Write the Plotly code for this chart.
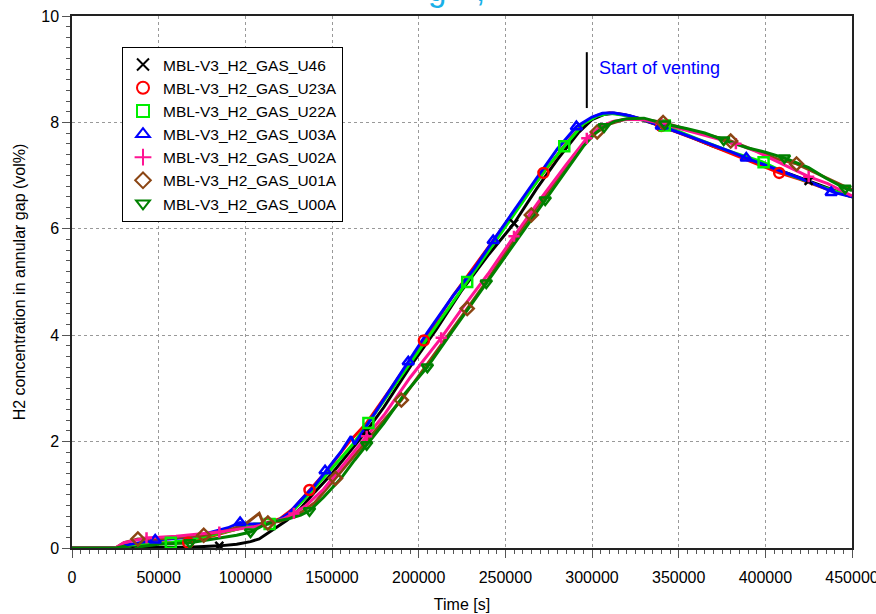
import plotly.graph_objects as go

# ---------------- data (time in kilo-seconds, H2 in vol%) ----------------
u46_t = [0, 30, 50, 70, 85, 95, 103, 108, 113, 118, 124, 132, 140, 150, 160, 170, 180, 197, 210, 225, 240, 255, 268, 280, 292, 300, 307, 313, 322, 332, 340, 355, 370, 385, 400, 412, 425, 438, 450]
u46_c = [0, 0, 0.01, 0.02, 0.04, 0.07, 0.12, 0.17, 0.28, 0.4, 0.52, 0.75, 1.05, 1.4, 1.8, 2.2, 2.65, 3.5, 4.1, 4.85, 5.5, 6.1, 6.75, 7.3, 7.8, 8.05, 8.15, 8.17, 8.12, 8.02, 7.93, 7.75, 7.55, 7.38, 7.2, 7.05, 6.9, 6.75, 6.6]
u46_mt = [85, 170, 255, 340, 425]
u46_mc = [0.04, 2.2, 6.1, 7.93, 6.9]

u23a_t = [0, 25, 30, 45, 67, 90, 100, 110, 120, 128, 137, 147, 160, 170, 185, 203, 220, 240, 258, 272, 285, 295, 303, 310, 318, 330, 340, 360, 380, 395, 408, 420, 435, 450]
u23a_c = [0, 0, 0.05, 0.1, 0.1, 0.3, 0.4, 0.45, 0.55, 0.75, 1.09, 1.45, 2.0, 2.35, 3.05, 3.9, 4.75, 5.65, 6.45, 7.05, 7.6, 7.98, 8.13, 8.18, 8.15, 8.05, 7.93, 7.68, 7.42, 7.22, 7.05, 6.93, 6.75, 6.6]
u23a_mt = [67, 137, 203, 272, 340, 408]
u23a_mc = [0.1, 1.09, 3.9, 7.05, 7.93, 7.05]

u22a_t = [0, 25, 30, 45, 57, 75, 95, 105, 114, 125, 135, 150, 162, 171, 185, 200, 215, 228, 245, 262, 274, 284, 295, 303, 310, 320, 330, 342, 360, 380, 399, 415, 430, 450]
u22a_c = [0, 0, 0.05, 0.08, 0.1, 0.2, 0.35, 0.45, 0.45, 0.62, 0.95, 1.5, 1.95, 2.35, 3.0, 3.7, 4.4, 5.0, 5.8, 6.6, 7.15, 7.55, 7.97, 8.12, 8.17, 8.13, 8.05, 7.94, 7.7, 7.45, 7.25, 7.0, 6.82, 6.6]
u22a_mt = [57, 114, 171, 228, 284, 342, 399]
u22a_mc = [0.1, 0.45, 2.35, 5.0, 7.55, 7.94, 7.25]

u03a_t = [0, 25, 30, 40, 48, 60, 75, 90, 97, 102, 110, 118, 125, 132, 140, 147, 155, 161, 163, 170, 180, 194, 205, 220, 232, 243, 255, 268, 280, 291, 300, 306, 312, 320, 330, 340, 350, 360, 370, 380, 389, 400, 410, 420, 430, 440, 450]
u03a_c = [0, 0, 0.05, 0.1, 0.15, 0.18, 0.25, 0.38, 0.48, 0.45, 0.45, 0.5, 0.65, 0.9, 1.17, 1.47, 1.8, 2.1, 1.95, 2.3, 2.8, 3.5, 4.05, 4.75, 5.25, 5.78, 6.35, 6.95, 7.5, 7.92, 8.1, 8.17, 8.18, 8.14, 8.05, 7.93, 7.82, 7.7, 7.58, 7.45, 7.33, 7.2, 7.08, 6.95, 6.82, 6.68, 6.6]
u03a_mt = [48, 97, 146, 194, 243, 291, 340, 389, 438]
u03a_mc = [0.15, 0.48, 1.45, 3.5, 5.78, 7.92, 7.93, 7.33, 6.68]

u02a_t = [0, 25, 30, 43, 60, 75, 85, 95, 105, 115, 122, 128, 135, 145, 155, 163, 170, 180, 195, 213, 225, 240, 255, 270, 285, 297, 305, 312, 320, 330, 340, 355, 370, 383, 395, 410, 425, 436, 450]
u02a_c = [0, 0, 0.1, 0.19, 0.22, 0.27, 0.3, 0.35, 0.4, 0.47, 0.55, 0.65, 0.8, 1.1, 1.5, 1.8, 2.1, 2.5, 3.2, 3.95, 4.5, 5.15, 5.86, 6.55, 7.2, 7.7, 7.92, 8.02, 8.06, 8.05, 7.98, 7.85, 7.72, 7.6, 7.45, 7.22, 6.98, 6.85, 6.62]
u02a_mt = [43, 85, 128, 170, 213, 255, 297, 340, 383, 425]
u02a_mc = [0.19, 0.3, 0.65, 2.1, 3.95, 5.86, 7.7, 7.98, 7.6, 6.98]

u01a_t = [0, 25, 30, 38, 50, 63, 76, 90, 100, 108, 111, 113, 120, 130, 140, 152, 162, 172, 180, 190, 205, 215, 228, 240, 252, 265, 278, 290, 297, 303, 310, 318, 328, 341, 355, 368, 380, 395, 408, 418, 432, 445, 450]
u01a_c = [0, 0, 0.1, 0.17, 0.17, 0.2, 0.24, 0.33, 0.45, 0.65, 0.42, 0.47, 0.5, 0.62, 0.85, 1.31, 1.7, 2.1, 2.4, 2.78, 3.45, 3.9, 4.5, 5.05, 5.65, 6.26, 6.85, 7.4, 7.65, 7.82, 7.97, 8.05, 8.07, 8.0, 7.87, 7.76, 7.65, 7.46, 7.3, 7.22, 7.0, 6.8, 6.73]
u01a_mt = [38, 76, 113, 152, 190, 228, 265, 303, 341, 380, 418]
u01a_mc = [0.17, 0.24, 0.47, 1.31, 2.78, 4.5, 6.26, 7.82, 8.0, 7.65, 7.22]

u00a_t = [0, 25, 30, 35, 40, 50, 68, 85, 95, 103, 110, 117, 125, 132, 137, 145, 155, 163, 170, 180, 192, 205, 220, 239, 255, 273, 285, 295, 302, 307, 313, 320, 330, 342, 355, 365, 376, 390, 400, 411, 425, 435, 446, 450]
u00a_c = [0, 0, 0.03, -0.03, 0.03, 0.07, 0.1, 0.18, 0.24, 0.3, 0.42, 0.5, 0.55, 0.62, 0.7, 0.95, 1.3, 1.65, 1.94, 2.35, 2.9, 3.4, 4.1, 4.98, 5.7, 6.54, 7.1, 7.55, 7.8, 7.92, 8.02, 8.07, 8.08, 7.97, 7.88, 7.8, 7.67, 7.52, 7.44, 7.33, 7.15, 6.95, 6.76, 6.72]
u00a_mt = [35, 68, 103, 137, 170, 205, 239, 273, 307, 342, 376, 411, 446]
u00a_mc = [-0.03, 0.1, 0.3, 0.7, 1.94, 3.4, 4.98, 6.54, 7.92, 7.97, 7.67, 7.33, 6.76]

venting_time = 297000
venting_bar = [8.27, 9.32]
x_ticks = list(range(0, 450001, 50000))
y_ticks = [0, 2, 4, 6, 8, 10]

FONT = "Arial, Liberation Sans, sans-serif"

series = [
    # name, t, c, marker t, marker c, color, symbol
    ("MBL-V3_H2_GAS_U46", u46_t, u46_c, u46_mt, u46_mc, "#000000", "x-thin"),
    ("MBL-V3_H2_GAS_U23A", u23a_t, u23a_c, u23a_mt, u23a_mc, "#ff0000", "circle-open"),
    ("MBL-V3_H2_GAS_U22A", u22a_t, u22a_c, u22a_mt, u22a_mc, "#00ee00", "square-open"),
    ("MBL-V3_H2_GAS_U03A", u03a_t, u03a_c, u03a_mt, u03a_mc, "#0000ff", "triangle-up-open"),
    ("MBL-V3_H2_GAS_U02A", u02a_t, u02a_c, u02a_mt, u02a_mc, "#ff1493", "cross-thin"),
    ("MBL-V3_H2_GAS_U01A", u01a_t, u01a_c, u01a_mt, u01a_mc, "#8b4513", "diamond-open"),
    ("MBL-V3_H2_GAS_U00A", u00a_t, u00a_c, u00a_mt, u00a_mc, "#008000", "triangle-down-open"),
]

fig = go.Figure()

line_order = [0, 1, 2, 3, 5, 4, 6]
for i in line_order:
    name, t, c, mt, mc, col, sym = series[i]
    fig.add_trace(go.Scatter(
        x=[v * 1000 for v in t], y=c, mode="lines",
        line=dict(color=col, width=3), showlegend=False,
        legendgroup=name, hoverinfo="skip"))

for name, t, c, mt, mc, col, sym in series:
    fig.add_trace(go.Scatter(
        x=[v * 1000 for v in mt], y=mc, mode="markers", name=name,
        legendgroup=name, cliponaxis=False,
        marker=dict(symbol=sym, size=10 if "thin" not in sym else 8,
                    color=col, line=dict(color=col, width=2.5))))

# Start of venting marker
fig.add_trace(go.Scatter(
    x=[venting_time, venting_time], y=venting_bar, mode="lines",
    line=dict(color="#000000", width=2), showlegend=False, hoverinfo="skip"))

fig.add_annotation(x=venting_time + 6000, y=9.02, xref="x", yref="y",
                   text="Start of venting", showarrow=False, xanchor="left",
                   font=dict(family=FONT, size=18, color="#0000ff"))

# title fragment (cut off at the top of the image)
fig.add_annotation(x=(437 - 72) / 780, y=(548 - 10) / 532, xref="paper", yref="paper",
                   text="g", showarrow=False, xanchor="center", yanchor="bottom",
                   font=dict(family=FONT, size=33, color="#1ab0e8"))
fig.add_annotation(x=(480 - 72) / 780, y=(548 - 10) / 532, xref="paper", yref="paper",
                   text=",", showarrow=False, xanchor="center", yanchor="bottom",
                   font=dict(family=FONT, size=33, color="#1ab0e8"))

axis_common = dict(
    showline=True, linecolor="#222222", linewidth=1.5, mirror=True,
    ticks="outside", ticklen=8, tickwidth=1, tickcolor="#555555",
    showgrid=True, gridcolor="#999999", griddash="dot", gridwidth=1,
    zeroline=False, automargin=False, ticklabeloverflow="allow",
    tickfont=dict(family=FONT, size=16, color="#000000"),
)

fig.update_xaxes(
    range=[0, 450000], tickvals=x_ticks, ticktext=[str(v) for v in x_ticks],
    ticklabelstandoff=6,
    title=dict(text="Time [s]", font=dict(family=FONT, size=16, color="#000000"), standoff=14),
    minor=dict(dtick=5000, ticklen=4, tickcolor="#555555", ticks="outside", showgrid=False),
    **axis_common)
fig.update_yaxes(
    range=[0, 10], tickvals=y_ticks, ticktext=[str(v) for v in y_ticks],
    title=dict(text="H2 concentration in annular gap (vol%)",
               font=dict(family=FONT, size=16, color="#000000"), standoff=12),
    minor=dict(dtick=0.2, ticklen=4, tickcolor="#555555", ticks="outside", showgrid=False),
    **axis_common)

fig.update_layout(
    width=876, height=614,
    margin=dict(l=72, r=24, t=16, b=66, autoexpand=False),
    paper_bgcolor="white", plot_bgcolor="white",
    font=dict(family=FONT, size=16, color="#000000"),
    legend=dict(x=(122 - 72) / 780, y=(548 - 47) / 532, xanchor="left", yanchor="top",
                bgcolor="white", bordercolor="#000000", borderwidth=1,
                font=dict(family=FONT, size=15.5, color="#000000"),
                tracegroupgap=0, itemsizing="constant"),
    showlegend=True,
)

fig.write_html("out.html", config={"displayModeBar": False},
               post_script="document.body.style.margin='0';document.body.style.padding='0';")
